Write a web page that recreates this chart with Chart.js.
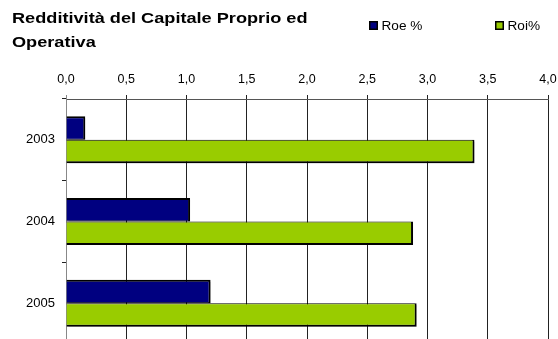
<!DOCTYPE html>
<html>
<head>
<meta charset="utf-8">
<script src="https://cdn.jsdelivr.net/npm/chart.js@4.4.1/dist/chart.umd.min.js"></script>
<style>
    html, body { margin: 0; padding: 0; background: #fff; }
    #wrap { width: 558px; height: 339px; overflow: hidden; position: relative; }
    canvas { display: block; }
</style>
</head>
<body>
<div id="wrap"><canvas id="redditivitaChart" width="558" height="344"></canvas></div>
<script>
// Anni e indici (valori in %)
const anni = ['2003', '2004', '2005'];
const roe = [0.16, 1.03, 1.20];
const roi = [3.39, 2.88, 2.91];
const titolo = ['Redditività del Capitale Proprio ed', 'Operativa'];

const FONT = '"Liberation Sans", Arial, sans-serif';

// testo allargato in orizzontale (come nel grafico originale)
function testoLargo(ctx, txt, x, y, sx) {
    ctx.save();
    ctx.translate(x, y);
    ctx.scale(sx, 1);
    ctx.fillText(txt, 0, 0);
    ctx.restore();
}

// Titolo e legenda disegnati a mano nella fascia in alto
const headerPlugin = {
    id: 'header',
    afterDraw(chart) {
        const ctx = chart.ctx;
        ctx.save();
        ctx.fillStyle = '#000';
        ctx.textBaseline = 'alphabetic';
        ctx.font = 'bold 15px ' + FONT;
        testoLargo(ctx, titolo[0], 12, 23, 1.21);
        testoLargo(ctx, titolo[1], 12, 47, 1.21);

        const posX = [369, 495];
        ctx.font = '12.5px ' + FONT;
        chart.data.datasets.forEach((ds, i) => {
            const x = posX[i];
            ctx.fillStyle = '#000';
            ctx.fillRect(x, 21, 9, 9);
            ctx.fillStyle = ds.backgroundColor;
            ctx.fillRect(x + 1.5, 22.5, 6, 6);
            ctx.fillStyle = '#000';
            testoLargo(ctx, ds.label, x + 12.5, 30, 1.09);
        });
        ctx.restore();
    }
};

// Ombra leggera sotto le barre
const ombraPlugin = {
    id: 'ombra',
    beforeDatasetsDraw(chart) {
        const ctx = chart.ctx;
        ctx.save();
        ctx.shadowColor = 'rgba(0,0,0,0.22)';
        ctx.shadowOffsetX = 2;
        ctx.shadowOffsetY = 2;
        ctx.shadowBlur = 0;
    },
    afterDatasetsDraw(chart) {
        chart.ctx.restore();
    }
};

new Chart(document.getElementById('redditivitaChart').getContext('2d'), {
    type: 'bar',
    data: {
        labels: anni,
        datasets: [
            {
                label: 'Roe %',
                data: roe,
                backgroundColor: '#000080',
                borderColor: '#000',
                borderWidth: { top: 2, right: 2, bottom: 1, left: 0 },
                borderSkipped: false
            },
            {
                label: 'Roi%',
                data: roi,
                backgroundColor: '#99cc00',
                borderColor: '#000',
                borderWidth: { top: 1, right: 2, bottom: 2, left: 0 },
                borderSkipped: false
            }
        ]
    },
    options: {
        indexAxis: 'y',
        responsive: false,
        animation: false,
        devicePixelRatio: 1,
        layout: { padding: 0 },
        datasets: {
            bar: { categoryPercentage: 0.575, barPercentage: 1.0 }
        },
        plugins: {
            legend: { display: false },
            title: { display: false },
            tooltip: { enabled: false }
        },
        scales: {
            x: {
                position: 'top',
                min: 0,
                max: 4,
                afterFit: (scale) => {
                    scale.height = 99;
                    scale.paddingLeft = 0;
                    scale.paddingRight = 10;
                },
                ticks: {
                    stepSize: 0.5,
                    color: '#000',
                    padding: 8,
                    font: { family: FONT, size: 12.5 },
                    callback: (v) => v.toFixed(1).replace('.', ',')
                },
                grid: {
                    color: (c) => c.index === 0 ? '#888' : '#222',
                    lineWidth: 1,
                    tickLength: 4
                },
                border: { color: '#555', width: 1 }
            },
            y: {
                afterFit: (scale) => {
                    scale.width = 66;
                    scale.paddingTop = 0;
                    scale.paddingBottom = 0;
                },
                ticks: {
                    color: '#000',
                    padding: 7,
                    font: { family: FONT, size: 13 }
                },
                grid: {
                    offset: true,
                    drawOnChartArea: false,
                    color: '#222',
                    tickLength: 4
                },
                border: { color: '#888', width: 1 }
            }
        }
    },
    plugins: [ombraPlugin, headerPlugin]
});
</script>
</body>
</html>
